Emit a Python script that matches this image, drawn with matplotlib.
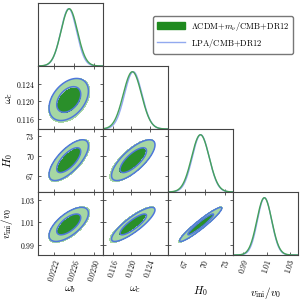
import numpy as np
import matplotlib
matplotlib.use('Agg')
import matplotlib.pyplot as plt
from matplotlib.patches import Patch
from matplotlib.lines import Line2D

plt.rcParams['mathtext.fontset'] = 'cm'
plt.rcParams['font.family'] = ['DejaVu Serif']

# parameters
param_labels = [r'$\omega_b$', r'$\omega_c$', r'$H_0$', r'$v_{\rm ini}/v_0$']
axis_limits = [(0.02187, 0.02317), (0.1137, 0.1280), (64.5, 74.1), (0.9810, 1.0370)]
tick_values = [[0.0222, 0.0226, 0.0230], [0.116, 0.120, 0.124], [67, 70, 73], [0.99, 1.01, 1.03]]
tick_labels = [['0.0222', '0.0226', '0.0230'], ['0.116', '0.120', '0.124'],
               ['67', '70', '73'], ['0.99', '1.01', '1.03']]

# LCDM+mnu / CMB+DR12 posterior (gaussian approximation)
lcdm_mean = [0.02250, 0.1202, 69.3, 1.0080]
lcdm_sigma = [0.000165, 0.0020, 1.30, 0.0064]
# LPA / CMB+DR12
lpa_mean = [0.02249, 0.1204, 69.35, 1.0082]
lpa_sigma = [0.000158, 0.00192, 1.25, 0.0061]

# correlation of each pair (i, j), i < j
pair_corr = {(0, 1): 0.40, (0, 2): 0.70, (0, 3): 0.65,
             (1, 2): 0.75, (1, 3): 0.85, (2, 3): 0.95}

legend_labels = [r'$\Lambda\mathrm{CDM}{+}m_\nu/\mathrm{CMB}{+}\mathrm{DR12}$',
                 r'$\mathrm{LPA/CMB}{+}\mathrm{DR12}$']

dark_green = '#2a8f2a'
light_green = '#a6d7a3'
line_green = '#45a05a'
blue = '#4f78dc'
light_blue = '#92a9ef'
spine_col = '#444444'

CHI2_68, CHI2_95 = 2.2958, 6.1801


def chi2_grid(mean, sigma, rho, i, j, X, Y):
    dx = (X - mean[i]) / sigma[i]
    dy = (Y - mean[j]) / sigma[j]
    return (dx**2 - 2*rho*dx*dy + dy**2) / (1 - rho**2)


def style_axes(ax, twod=True):
    for s in ax.spines.values():
        s.set_color(spine_col)
        s.set_linewidth(0.8)
    ax.tick_params(direction='in', length=2.5, width=0.6, color=spine_col,
                   top=twod, right=twod, left=twod, labelsize=5.5, pad=2)


n = len(param_labels)
fig = plt.figure(figsize=(3.02, 3.0), dpi=100)
gs = fig.add_gridspec(n, n, left=0.1248, right=0.9868, top=0.99, bottom=0.15,
                      wspace=0, hspace=0)

for row in range(n):
    for col in range(row + 1):
        ax = fig.add_subplot(gs[row, col])
        xs = np.linspace(*axis_limits[col], 300)
        if row == col:
            g1 = np.exp(-0.5*((xs - lpa_mean[col]) / lpa_sigma[col])**2)
            g2 = np.exp(-0.5*((xs - lcdm_mean[col]) / lcdm_sigma[col])**2)
            ax.plot(xs, g1, color=light_blue, lw=1.0)
            ax.plot(xs, g2, color=line_green, lw=1.0)
            ax.set_ylim(0, 1.1)
            ax.set_yticks([])
            style_axes(ax, twod=False)
        else:
            ys = np.linspace(*axis_limits[row], 300)
            X, Y = np.meshgrid(xs, ys)
            rho = pair_corr[(col, row)]
            c1 = chi2_grid(lcdm_mean, lcdm_sigma, rho, col, row, X, Y)
            c2 = chi2_grid(lpa_mean, lpa_sigma, rho, col, row, X, Y)
            ax.contourf(X, Y, c1, levels=[0, CHI2_68, CHI2_95],
                        colors=[dark_green, light_green])
            ax.contour(X, Y, c2, levels=[CHI2_68, CHI2_95], colors=blue,
                       linewidths=1.1)
            ax.set_ylim(*axis_limits[row])
            ax.set_yticks(tick_values[row])
            if col == 0:
                ax.set_yticklabels(['$%s$' % t for t in tick_labels[row]])
                ax.set_ylabel(param_labels[row], fontsize=8)
                ax.yaxis.set_label_coords(-0.35, 0.5)
            else:
                ax.set_yticklabels([])
            style_axes(ax, twod=True)
        ax.set_xlim(*axis_limits[col])
        ax.set_xticks(tick_values[col])
        if row == n - 1:
            ax.set_xticklabels(['$%s$' % t for t in tick_labels[col]],
                               rotation=72, ha='center')
            ax.set_xlabel(param_labels[col], fontsize=8)
            ax.xaxis.set_label_coords(0.5, -0.47)
        else:
            ax.set_xticklabels([])

handles = [Patch(facecolor='#1f8a1f', edgecolor='#1f8a1f'),
           Line2D([], [], color=light_blue, lw=1.0)]
fig.legend(handles, legend_labels, loc='upper right', bbox_to_anchor=(0.970, 0.947),
           borderaxespad=0, fontsize=6.2, frameon=True, edgecolor='#555555',
           fancybox=True, handlelength=3.2, handleheight=0.9, handletextpad=0.7,
           borderpad=0.45, labelspacing=0.45)

fig.savefig('out.png', dpi=100)
